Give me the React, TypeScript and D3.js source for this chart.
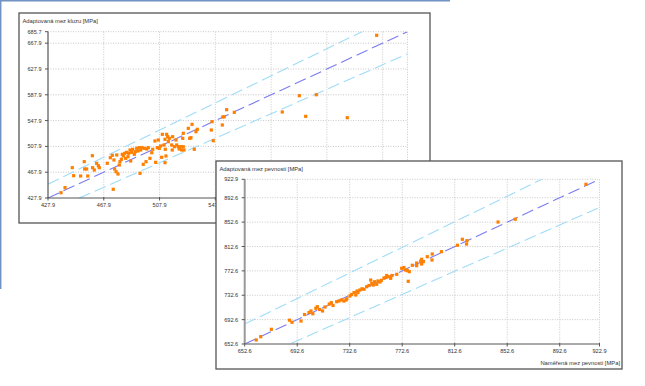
import * as d3 from "d3";
import React from "react";

// yield strength chart (mez kluzu)
const ticks1 = [427.9, 467.9, 507.9, 547.9, 587.9, 627.9, 667.9, 685.7];
const measured1 = [
  437.2, 440.1, 445.3, 446.3, 451.3, 453.9, 454.2, 455.6, 456.4, 459.7, 459.9, 461.1, 462.8, 464.0, 464.7,
  470.4, 472.6, 474.0, 474.7, 475.2, 475.7, 476.7, 478.1, 477.2, 479.0, 479.5, 480.5, 481.2, 481.9, 482.9,
  483.6, 484.3, 485.3, 485.8, 486.7, 487.2, 487.9, 488.6, 489.8, 490.5, 491.5, 492.4, 493.2, 493.9, 494.4,
  495.1, 496.2, 497.0, 498.2, 498.7, 499.8, 501.0, 502.3, 503.0, 505.1, 504.6, 506.3, 507.0, 507.7, 508.7,
  509.4, 509.9, 511.1, 512.0, 511.8, 511.8, 512.5, 513.0, 513.7, 514.2, 514.9, 516.6, 517.0, 517.3, 518.5,
  519.7, 520.2, 521.3, 522.0, 523.1, 523.8, 524.5, 524.9, 524.9, 525.4, 528.5, 529.5, 530.4, 531.2, 532.8,
  534.0, 535.0, 545.0, 545.5, 546.4, 552.9, 553.2, 554.3, 556.0, 561.5, 595.9, 608.1, 620.3, 612.7, 642.5,
  663.6,
];
const adapted1 = [
  436.1, 443.9, 474.9, 462.5, 462.0, 484.2, 472.9, 472.9, 462.0, 493.5, 474.9, 471.3, 481.7, 478.0, 474.9,
  481.7, 490.4, 494.1, 441.4, 486.8, 472.9, 468.7, 465.1, 494.6, 479.1, 484.2, 487.9, 495.6, 493.0, 497.2,
  489.4, 498.7, 491.9, 497.2, 502.3, 485.3, 498.7, 503.4, 495.6, 499.7, 504.9, 500.8, 505.9, 466.2, 502.3,
  505.9, 480.1, 504.9, 484.2, 503.9, 505.9, 489.4, 498.1, 503.4, 483.2, 516.3, 505.9, 517.8, 504.9, 508.5,
  491.0, 526.6, 510.1, 503.4, 482.6, 518.9, 493.0, 526.6, 522.9, 515.2, 520.4, 510.1, 502.3, 522.9, 507.4,
  517.8, 510.1, 507.4, 503.9, 507.4, 502.3, 520.4, 507.4, 528.2, 502.3, 535.9, 520.4, 521.4, 542.1, 503.4,
  530.7, 534.4, 533.3, 546.2, 516.7, 541.1, 553.5, 553.9, 564.8, 560.7, 561.2, 586.5, 588.0, 554.5, 552.4,
  680.1,
];

// tensile strength chart (mez pevnosti)
const ticks2 = [652.6, 692.6, 732.6, 772.6, 812.6, 852.6, 892.6, 922.9];
const measured2 = [
  661.4, 664.8, 672.9, 686.7, 688.6, 695.5, 698.2, 701.6, 704.5, 706.8, 707.9, 709.6, 711.9, 717.0, 718.6,
  719.9, 722.7, 724.4, 726.3, 728.2, 730.4, 732.8, 734.0, 735.9, 737.2, 738.2, 740.4, 742.0, 743.5, 745.5,
  747.3, 748.6, 749.4, 750.6, 751.6, 753.2, 754.1, 756.7, 758.7, 760.8, 762.5, 763.8, 764.8, 768.4, 772.2,
  773.9, 775.2, 776.5, 777.2, 778.0, 780.3, 783.6, 783.6, 786.7, 787.4, 787.4, 788.7, 791.7, 795.3, 795.5,
  802.5, 814.7, 818.4, 821.6, 821.9, 845.6, 858.7, 912.6, 755.7, 738.9, 713.8, 703.1, 760.2, 729.8,
];
const adapted2 = [
  659.2, 664.6, 676.7, 691.7, 688.2, 690.3, 701.0, 704.3, 702.2, 711.2, 713.8, 709.2, 706.8, 718.2, 720.4,
  715.8, 722.0, 723.2, 724.8, 723.2, 726.8, 731.4, 733.8, 737.1, 733.0, 739.6, 741.2, 743.2, 742.4, 746.6,
  748.6, 757.6, 752.2, 749.4, 754.8, 750.6, 756.0, 757.1, 760.9, 765.0, 763.0, 760.4, 765.0, 767.0, 776.8,
  778.1, 774.0, 772.9, 755.5, 771.3, 781.8, 785.5, 781.1, 788.8, 791.6, 783.9, 787.7, 795.9, 790.5, 800.3,
  804.1, 814.7, 824.4, 816.7, 822.1, 852.8, 857.4, 914.7, 754.3, 737.1, 713.3, 706.8, 761.7, 724.8,
];

const band = 0.05; // +-5 % lines

const font = "'Liberation Sans', Arial, sans-serif";
const axisColor = "#555";
const gridColor = "#c8c8c8";
const lineColor = "#7b7bf0";
const bandColor = "#9fdcf8";
const pointColor = "#ff7f00";

function Chart({ id, frame, plot, ticks, xs, ys, title, xLabel, yAxisStyle }: any) {
  const lo = ticks[0];
  const hi = ticks[ticks.length - 1];
  const x = d3.scaleLinear().domain([lo, hi]).range([plot.left, plot.right]);
  const y = d3.scaleLinear().domain([lo, hi]).range([plot.bottom, plot.top]);
  const line = d3
    .line<number>()
    .x((d) => x(d))
    .y((d) => y(d));
  const ref = [lo, hi];
  const upper = d3
    .line<number>()
    .x((d) => x(d))
    .y((d) => y(d * (1 + band)));
  const lower = d3
    .line<number>()
    .x((d) => x(d))
    .y((d) => y(d * (1 - band)));
  const pts = xs.map((v: number, i: number) => [v, ys[i]]);

  return (
    <g>
      <defs>
        <clipPath id={id}>
          <rect x={plot.left} y={plot.top} width={plot.right - plot.left} height={plot.bottom - plot.top} />
        </clipPath>
      </defs>
      <rect x={frame.x} y={frame.y} width={frame.w} height={frame.h} fill="#fff" stroke={axisColor} strokeWidth={1.3} />
      <text x={frame.x + 3.5} y={frame.y + 10} fontSize={5.8} fill="#333" fontFamily={font}>
        {title}
      </text>
      {/* grid */}
      {ticks.slice(1).map((t: number) => (
        <line key={"gx" + t} x1={x(t)} x2={x(t)} y1={plot.top} y2={plot.bottom} stroke={gridColor} strokeDasharray="1,1.5" />
      ))}
      {ticks.slice(1).map((t: number) => (
        <line key={"gy" + t} x1={plot.left} x2={plot.right} y1={y(t)} y2={y(t)} stroke={gridColor} strokeDasharray="1,1.5" />
      ))}
      {/* reference lines */}
      <g clipPath={`url(#${id})`} fill="none" strokeWidth={1.1}>
        <path d={upper(ref) as string} stroke={bandColor} strokeDasharray="12,5" />
        <path d={lower(ref) as string} stroke={bandColor} strokeDasharray="12,5" />
        <path d={line(ref) as string} stroke={lineColor} strokeDasharray="12,5" />
      </g>
      {/* points */}
      <g fill={pointColor}>
        {pts.map((p: number[], i: number) => (
          <rect key={i} x={x(p[0]) - 1.6} y={y(p[1]) - 1.6} width={3.2} height={3.2} />
        ))}
      </g>
      {/* axes */}
      <line x1={plot.left} x2={plot.right} y1={plot.bottom} y2={plot.bottom} stroke={axisColor} strokeWidth={1} />
      <line x1={plot.left} x2={plot.left} y1={plot.top} y2={plot.bottom} stroke={yAxisStyle.color} strokeWidth={yAxisStyle.width} />
      {ticks.map((t: number) => (
        <g key={"tx" + t}>
          <line x1={x(t)} x2={x(t)} y1={plot.bottom - 1} y2={plot.bottom + 2.5} stroke={axisColor} />
          <text x={x(t)} y={plot.bottom + 9} fontSize={5.6} textAnchor="middle" fill="#333" fontFamily={font}>
            {t.toFixed(1)}
          </text>
        </g>
      ))}
      {ticks.map((t: number) => (
        <g key={"ty" + t}>
          <line x1={plot.left - 3} x2={plot.left} y1={y(t)} y2={y(t)} stroke={axisColor} />
          <text x={plot.left - 6.5} y={y(t) + 2} fontSize={5.6} textAnchor="end" fill="#333" fontFamily={font}>
            {t.toFixed(1)}
          </text>
        </g>
      ))}
      <text x={frame.x + frame.w - 2} y={frame.y + frame.h - 4.5} fontSize={5.8} textAnchor="end" fill="#333" fontFamily={font}>
        {xLabel}
      </text>
    </g>
  );
}

export default function App() {
  return (
    <svg
      width={645}
      height={386}
      viewBox="0 0 645 386"
      style={{ position: "absolute", left: 0, top: 0, background: "#fff" }}
    >
      <line x1={0} x2={450} y1={0.7} y2={0.7} stroke="#7193c4" strokeWidth={1.5} />
      <line x1={0.7} x2={0.7} y1={0} y2={289} stroke="#7193c4" strokeWidth={1.5} />
      <Chart
        id="c1"
        frame={{ x: 19, y: 13, w: 411, h: 210 }}
        plot={{ left: 48, right: 407.5, top: 31.7, bottom: 198 }}
        ticks={ticks1}
        xs={measured1}
        ys={adapted1}
        title="Adaptovaná mez kluzu [MPa]"
        xLabel="Naměřená mez kluzu [MPa]"
        yAxisStyle={{ color: "#555", width: 1.2 }}
      />
      <Chart
        id="c2"
        frame={{ x: 216, y: 161, w: 406, h: 208 }}
        plot={{ left: 244.7, right: 599.5, top: 179.3, bottom: 344 }}
        ticks={ticks2}
        xs={measured2}
        ys={adapted2}
        title="Adaptovaná mez pevnosti [MPa]"
        xLabel="Naměřená mez pevnosti [MPa]"
        yAxisStyle={{ color: "#999", width: 2 }}
      />
    </svg>
  );
}
